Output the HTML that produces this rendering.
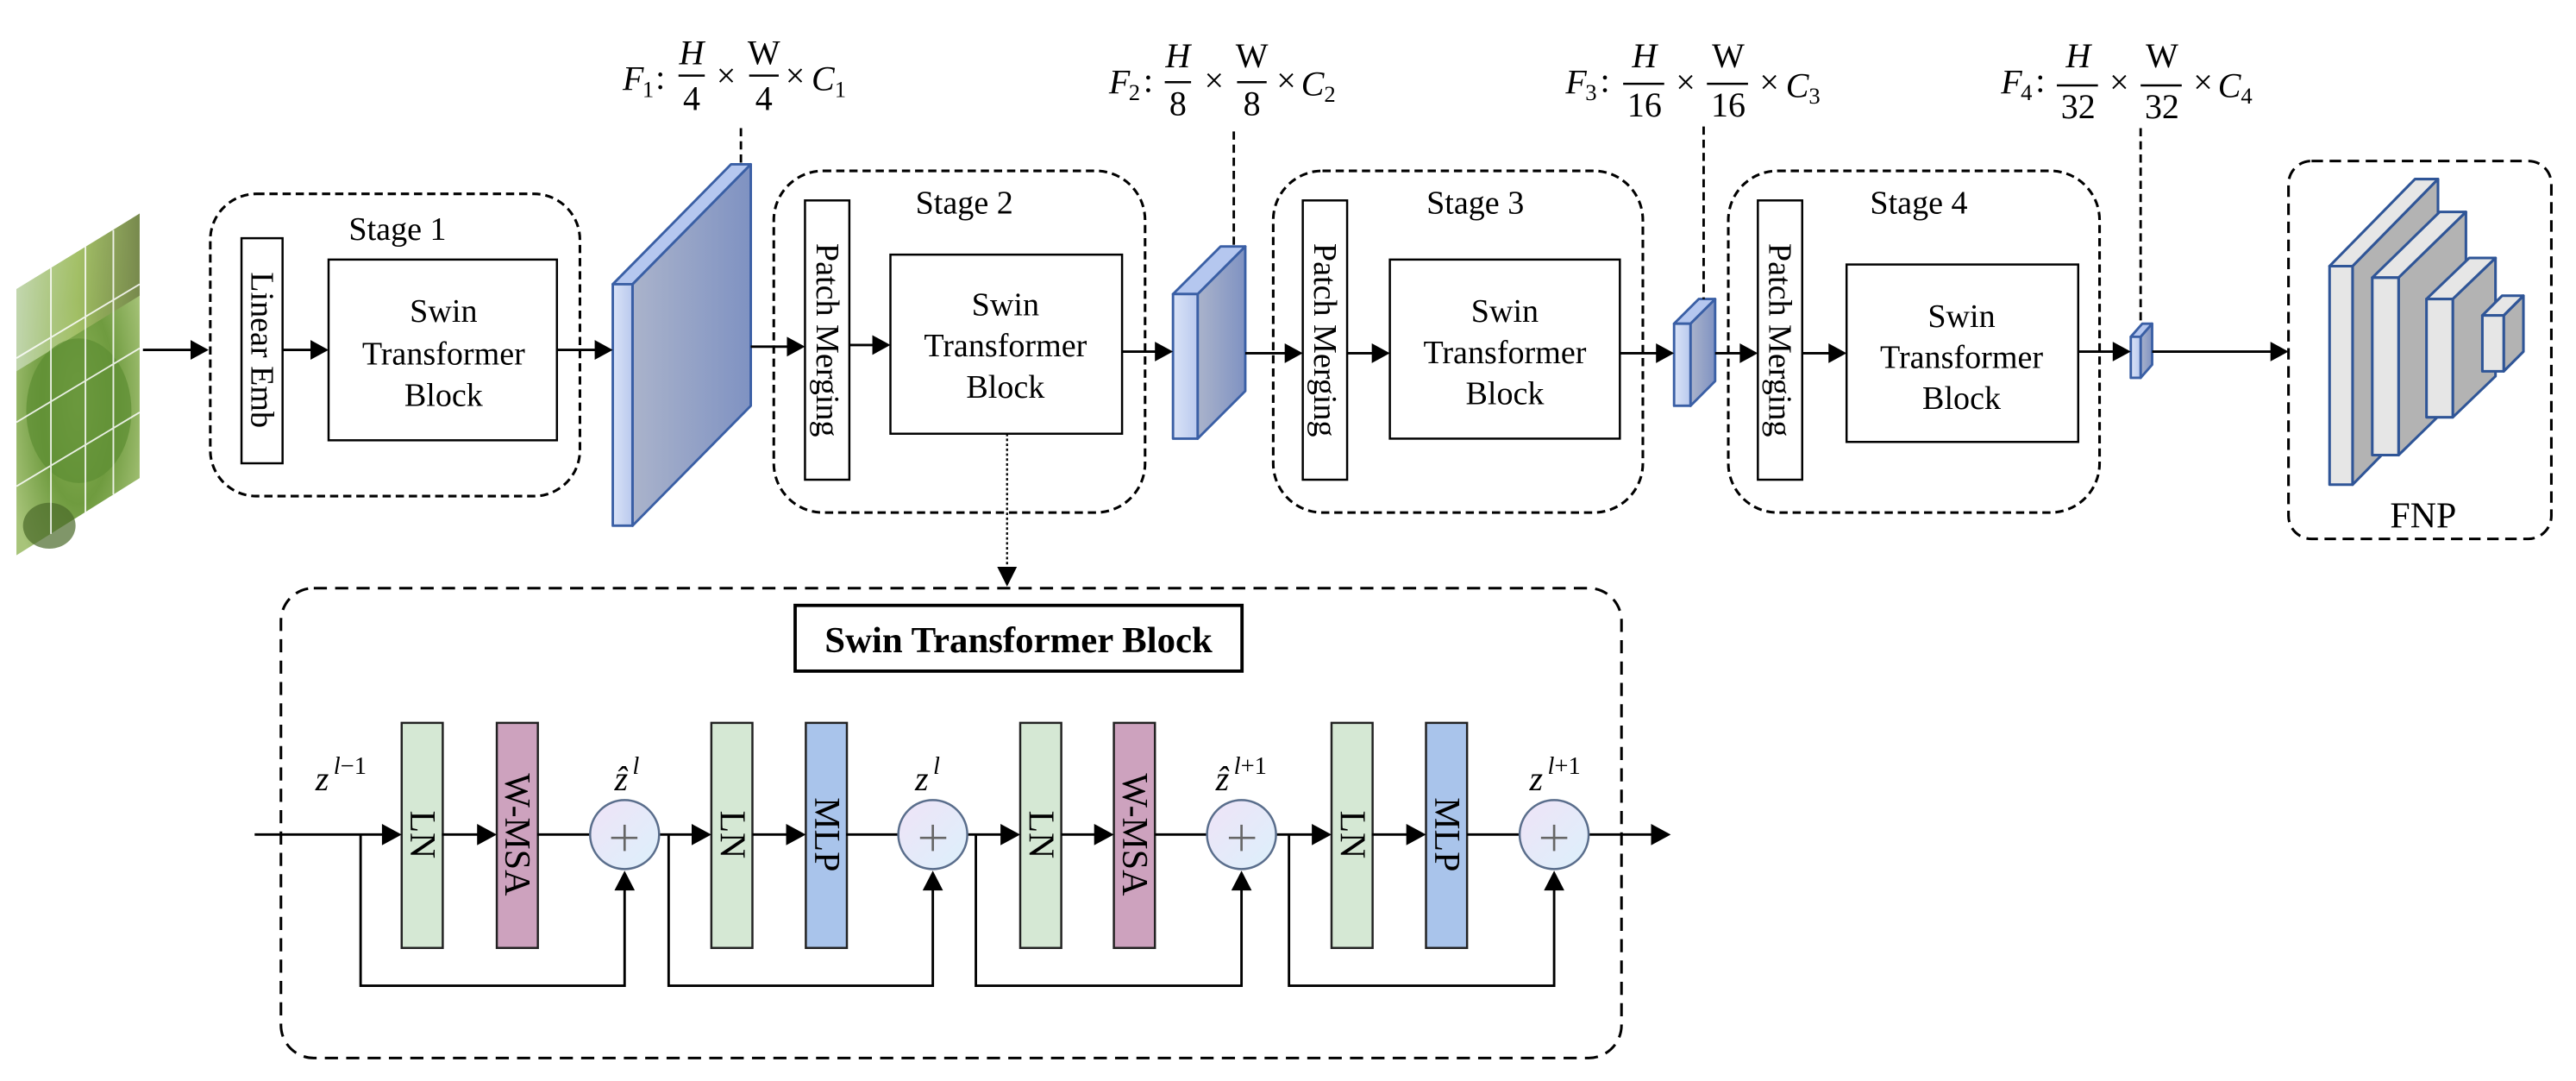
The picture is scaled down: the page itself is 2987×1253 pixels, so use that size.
<!DOCTYPE html>
<html><head><meta charset="utf-8"><style>
html,body{margin:0;padding:0;background:#fff;}
svg{display:block;}
text{font-family:"Liberation Serif","DejaVu Serif",serif;}
</style></head><body>
<svg width="2987" height="1253" viewBox="0 0 1568 658" preserveAspectRatio="none" xmlns="http://www.w3.org/2000/svg">
<defs>
<linearGradient id="slab" x1="0" y1="0" x2="1" y2="0"><stop offset="0" stop-color="#aab3cb"/><stop offset="1" stop-color="#7f92c2"/></linearGradient>
<linearGradient id="front" x1="0" y1="0" x2="1" y2="0"><stop offset="0" stop-color="#dae3f7"/><stop offset="1" stop-color="#b9c9ee"/></linearGradient>
<linearGradient id="circ" x1="0" y1="0" x2="1" y2="1"><stop offset="0" stop-color="#efe3f7"/><stop offset="1" stop-color="#dcf0fb"/></linearGradient>
<linearGradient id="leaftop" x1="0" y1="0" x2="1" y2="0"><stop offset="0" stop-color="#c7dab8"/><stop offset="0.5" stop-color="#a9c46a"/><stop offset="1" stop-color="#6f7f45"/></linearGradient>
<radialGradient id="leaf" cx="0.5" cy="0.55" r="0.6"><stop offset="0" stop-color="#8fb55a"/><stop offset="0.5" stop-color="#6f9b3f"/><stop offset="1" stop-color="#a8c47a"/></radialGradient>
</defs>

<!-- input image -->
<polygon points="10,176 85,130 85,291 10,338" fill="url(#leaf)"/>
<polygon points="10,176 85,130 85,180 10,226" fill="url(#leaftop)" opacity="0.85"/>
<ellipse cx="48" cy="250" rx="32" ry="44" fill="#5f8f34" opacity="0.75"/>
<ellipse cx="30" cy="320" rx="16" ry="14" fill="#4a6a2a" opacity="0.7"/>
<g stroke="#fff" stroke-width="1" opacity="0.85">
<line x1="31" y1="163" x2="31" y2="325"/><line x1="52" y1="150" x2="52" y2="312"/><line x1="69" y1="140" x2="69" y2="301"/>
<line x1="10" y1="218" x2="85" y2="173"/><line x1="10" y1="257" x2="85" y2="212"/><line x1="10" y1="296" x2="85" y2="251"/>
</g>

<g fill="none" stroke="#000" stroke-width="1.6" stroke-dasharray="5 3">
<rect x="128" y="118" width="225" height="184" rx="28"/>
<rect x="471" y="104" width="226" height="208" rx="30"/>
<rect x="775" y="104" width="225" height="208" rx="30"/>
<rect x="1052" y="104" width="226" height="208" rx="30"/>
</g>
<rect x="1393" y="98" width="160" height="230" rx="14" fill="none" stroke="#000" stroke-width="1.6" stroke-dasharray="7 4"/>
<rect x="171" y="358" width="816" height="286" rx="20" fill="none" stroke="#000" stroke-width="1.6" stroke-dasharray="8 5"/>

<g font-size="20" text-anchor="middle">
<text x="242" y="146">Stage 1</text>
<text x="587" y="130">Stage 2</text>
<text x="898" y="130">Stage 3</text>
<text x="1168" y="130">Stage 4</text>
<text x="1475" y="321" font-size="22">FNP</text>
</g>

<g fill="#fff" stroke="#000" stroke-width="1.3">
<rect x="147" y="145" width="25" height="137"/>
<rect x="490" y="122" width="27" height="170"/>
<rect x="793" y="122" width="27" height="170"/>
<rect x="1070" y="122" width="27" height="170"/>
<rect x="200" y="158" width="139" height="110"/>
<rect x="542" y="155" width="141" height="109"/>
<rect x="846" y="158" width="140" height="109"/>
<rect x="1124" y="161" width="141" height="108"/>
</g>
<g font-size="20" text-anchor="middle">
<text transform="translate(153,213) rotate(90)">Linear Emb</text>
<text transform="translate(497,207) rotate(90)">Patch Merging</text>
<text transform="translate(800,207) rotate(90)">Patch Merging</text>
<text transform="translate(1077,207) rotate(90)">Patch Merging</text>
</g>
<g font-size="20" text-anchor="middle">
<text x="270" y="196">Swin</text><text x="270" y="222">Transformer</text><text x="270" y="247">Block</text>
<text x="612" y="192">Swin</text><text x="612" y="217">Transformer</text><text x="612" y="242">Block</text>
<text x="916" y="196">Swin</text><text x="916" y="221">Transformer</text><text x="916" y="246">Block</text>
<text x="1194" y="199">Swin</text><text x="1194" y="224">Transformer</text><text x="1194" y="249">Block</text>
</g>

<g stroke="#3a5fa5" stroke-width="1.5" stroke-linejoin="round">
<polygon points="385,173 457,100 457,247 385,320" fill="url(#slab)"/>
<polygon points="373,173 385,173 457,100 445,100" fill="#b5c7ef"/>
<rect x="373" y="173" width="12" height="147" fill="url(#front)"/>
<polygon points="729,179 758,150 758,238 729,267" fill="url(#slab)"/>
<polygon points="714,179 729,179 758,150 743,150" fill="#b5c7ef"/>
<rect x="714" y="179" width="15" height="88" fill="url(#front)"/>
<polygon points="1029,197 1044,182 1044,232 1029,247" fill="url(#slab)"/>
<polygon points="1019,197 1029,197 1044,182 1034,182" fill="#b5c7ef"/>
<rect x="1019" y="197" width="10" height="50" fill="url(#front)"/>
<polygon points="1303,205 1310,197 1310,222 1303,230" fill="url(#slab)"/>
<polygon points="1297,205 1303,205 1310,197 1304,197" fill="#b5c7ef"/>
<rect x="1297" y="205" width="6" height="25" fill="url(#front)"/>
</g>
<g stroke="#000" stroke-width="1.5" stroke-dasharray="5 3">
<line x1="451" y1="78" x2="451" y2="100"/>
<line x1="751" y1="80" x2="751" y2="150"/>
<line x1="1037" y1="77" x2="1037" y2="182"/>
<line x1="1303" y1="78" x2="1303" y2="197"/>
</g>

<g stroke="#2f5597" stroke-width="1.6" stroke-linejoin="round">
<polygon points="1432,162 1484,109 1484,242 1432,295" fill="#b3b3b3"/>
<polygon points="1418,162 1432,162 1484,109 1470,109" fill="#e6e6e6"/>
<rect x="1418" y="162" width="14" height="133" fill="#e6e6e6"/>
<polygon points="1460,169 1501,129 1501,237 1460,277" fill="#b3b3b3"/>
<polygon points="1444,169 1460,169 1501,129 1485,129" fill="#e6e6e6"/>
<rect x="1444" y="169" width="16" height="108" fill="#e6e6e6"/>
<polygon points="1493,182 1519,157 1519,229 1493,254" fill="#b3b3b3"/>
<polygon points="1477,182 1493,182 1519,157 1503,157" fill="#e6e6e6"/>
<rect x="1477" y="182" width="16" height="72" fill="#e6e6e6"/>
<polygon points="1524,192 1536,180 1536,214 1524,226" fill="#b3b3b3"/>
<polygon points="1511,192 1524,192 1536,180 1523,180" fill="#e6e6e6"/>
<rect x="1511" y="192" width="13" height="34" fill="#e6e6e6"/>
</g>

<g stroke="#000" stroke-width="1.5">
<line x1="87" y1="213" x2="120" y2="213"/>
<line x1="172" y1="213" x2="192" y2="213"/>
<line x1="339" y1="213" x2="365" y2="213"/>
<line x1="457" y1="211" x2="482" y2="211"/>
<line x1="517" y1="210" x2="535" y2="210"/>
<line x1="683" y1="214" x2="707" y2="214"/>
<line x1="758" y1="215" x2="786" y2="215"/>
<line x1="820" y1="215" x2="839" y2="215"/>
<line x1="986" y1="215" x2="1012" y2="215"/>
<line x1="1044" y1="215" x2="1063" y2="215"/>
<line x1="1097" y1="215" x2="1117" y2="215"/>
<line x1="1265" y1="214" x2="1290" y2="214"/>
<line x1="1310" y1="214" x2="1386" y2="214"/>
</g>
<g fill="#000">
<polygon points="127,213 116,207 116,219"/>
<polygon points="200,213 189,207 189,219"/>
<polygon points="373,213 362,207 362,219"/>
<polygon points="490,211 479,205 479,217"/>
<polygon points="542,210 531,204 531,216"/>
<polygon points="714,214 703,208 703,220"/>
<polygon points="793,215 782,209 782,221"/>
<polygon points="846,215 835,209 835,221"/>
<polygon points="1019,215 1008,209 1008,221"/>
<polygon points="1070,215 1059,209 1059,221"/>
<polygon points="1124,215 1113,209 1113,221"/>
<polygon points="1297,214 1286,208 1286,220"/>
<polygon points="1393,214 1382,208 1382,220"/>
</g>

<g font-size="21">
<g>
<text x="379" y="55" font-style="italic">F</text><text x="391" y="59" font-size="14">1</text><text x="399" y="54">:</text>
<text x="421" y="39" text-anchor="middle" font-style="italic">H</text><line x1="413" y1="46" x2="429" y2="46" stroke="#000" stroke-width="1.3"/><text x="421" y="67" text-anchor="middle">4</text>
<text x="442" y="53" text-anchor="middle">×</text>
<text x="465" y="39" text-anchor="middle">W</text><line x1="456" y1="46" x2="474" y2="46" stroke="#000" stroke-width="1.3"/><text x="465" y="67" text-anchor="middle">4</text>
<text x="484" y="53" text-anchor="middle">×</text><text x="494" y="55" font-style="italic">C</text><text x="508" y="59" font-size="14">1</text>
</g>
<g>
<text x="675" y="57" font-style="italic">F</text><text x="687" y="61" font-size="14">2</text><text x="696" y="56">:</text>
<text x="717" y="41" text-anchor="middle" font-style="italic">H</text><line x1="709" y1="50" x2="725" y2="50" stroke="#000" stroke-width="1.3"/><text x="717" y="70" text-anchor="middle">8</text>
<text x="739" y="56" text-anchor="middle">×</text>
<text x="762" y="41" text-anchor="middle">W</text><line x1="753" y1="50" x2="771" y2="50" stroke="#000" stroke-width="1.3"/><text x="762" y="70" text-anchor="middle">8</text>
<text x="783" y="56" text-anchor="middle">×</text><text x="792" y="58" font-style="italic">C</text><text x="806" y="62" font-size="14">2</text>
</g>
<g>
<text x="953" y="57" font-style="italic">F</text><text x="965" y="61" font-size="14">3</text><text x="974" y="56">:</text>
<text x="1001" y="41" text-anchor="middle" font-style="italic">H</text><line x1="988" y1="51" x2="1013" y2="51" stroke="#000" stroke-width="1.3"/><text x="1001" y="71" text-anchor="middle">16</text>
<text x="1026" y="57" text-anchor="middle">×</text>
<text x="1052" y="41" text-anchor="middle">W</text><line x1="1039" y1="51" x2="1064" y2="51" stroke="#000" stroke-width="1.3"/><text x="1052" y="71" text-anchor="middle">16</text>
<text x="1077" y="57" text-anchor="middle">×</text><text x="1087" y="59" font-style="italic">C</text><text x="1101" y="63" font-size="14">3</text>
</g>
<g>
<text x="1218" y="57" font-style="italic">F</text><text x="1230" y="61" font-size="14">4</text><text x="1239" y="56">:</text>
<text x="1265" y="41" text-anchor="middle" font-style="italic">H</text><line x1="1252" y1="52" x2="1277" y2="52" stroke="#000" stroke-width="1.3"/><text x="1265" y="72" text-anchor="middle">32</text>
<text x="1290" y="57" text-anchor="middle">×</text>
<text x="1316" y="41" text-anchor="middle">W</text><line x1="1303" y1="52" x2="1328" y2="52" stroke="#000" stroke-width="1.3"/><text x="1316" y="72" text-anchor="middle">32</text>
<text x="1341" y="57" text-anchor="middle">×</text><text x="1350" y="59" font-style="italic">C</text><text x="1364" y="63" font-size="14">4</text>
</g>
</g>

<line x1="613" y1="264" x2="613" y2="345" stroke="#000" stroke-width="1.2" stroke-dasharray="1.5 1.5"/>
<polygon points="613,357 607,345 619,345" fill="#000"/>

<rect x="484" y="368.5" width="272" height="40" fill="#fff" stroke="#000" stroke-width="2"/>
<text x="620" y="397" font-size="22" font-weight="bold" text-anchor="middle" textLength="236" lengthAdjust="spacingAndGlyphs">Swin Transformer Block</text>

<g stroke="#222" stroke-width="1.3">
<rect x="244.5" y="440" width="25" height="137" fill="#d5e8d4"/>
<rect x="302.4" y="440" width="25" height="137" fill="#cda2be"/>
<rect x="433" y="440" width="25" height="137" fill="#d5e8d4"/>
<rect x="490.5" y="440" width="25" height="137" fill="#a9c4eb"/>
<rect x="621" y="440" width="25" height="137" fill="#d5e8d4"/>
<rect x="678" y="440" width="25" height="137" fill="#cda2be"/>
<rect x="810.5" y="440" width="25" height="137" fill="#d5e8d4"/>
<rect x="868" y="440" width="25" height="137" fill="#a9c4eb"/>
</g>
<g font-size="22" text-anchor="middle">
<text transform="translate(250,508) rotate(90)">LN</text>
<text transform="translate(307.5,508) rotate(90)">W-MSA</text>
<text transform="translate(438.5,508) rotate(90)">LN</text>
<text transform="translate(496,508) rotate(90)">MLP</text>
<text transform="translate(626.5,508) rotate(90)">LN</text>
<text transform="translate(683.5,508) rotate(90)">W-MSA</text>
<text transform="translate(816,508) rotate(90)">LN</text>
<text transform="translate(873.5,508) rotate(90)">MLP</text>
</g>

<g stroke="#000" stroke-width="1.5" fill="none">
<line x1="155" y1="508" x2="234" y2="508"/>
<line x1="269" y1="508" x2="292" y2="508"/>
<line x1="327" y1="508" x2="359" y2="508"/>
<line x1="401" y1="508" x2="423" y2="508"/>
<line x1="458" y1="508" x2="480" y2="508"/>
<line x1="515" y1="508" x2="547" y2="508"/>
<line x1="589" y1="508" x2="611" y2="508"/>
<line x1="646" y1="508" x2="668" y2="508"/>
<line x1="703" y1="508" x2="735" y2="508"/>
<line x1="777" y1="508" x2="800" y2="508"/>
<line x1="835" y1="508" x2="858" y2="508"/>
<line x1="893" y1="508" x2="925" y2="508"/>
<line x1="967" y1="508" x2="1006" y2="508"/>
<polyline points="219.5,508 219.5,600 380.2,600 380.2,540"/>
<polyline points="407,508 407,600 567.8,600 567.8,540"/>
<polyline points="594,508 594,600 755.7,600 755.7,540"/>
<polyline points="784.6,508 784.6,600 946,600 946,540"/>
</g>
<g fill="#000">
<polygon points="244.5,508 232.5,501.5 232.5,514.5"/>
<polygon points="302.4,508 290.4,501.5 290.4,514.5"/>
<polygon points="433,508 421,501.5 421,514.5"/>
<polygon points="490.5,508 478.5,501.5 478.5,514.5"/>
<polygon points="621,508 609,501.5 609,514.5"/>
<polygon points="678,508 666,501.5 666,514.5"/>
<polygon points="810.5,508 798.5,501.5 798.5,514.5"/>
<polygon points="868,508 856,501.5 856,514.5"/>
<polygon points="1017,508 1005,501.5 1005,514.5"/>
<polygon points="380.2,530 374,542 386.4,542"/>
<polygon points="567.8,530 561.6,542 574,542"/>
<polygon points="755.7,530 749.5,542 761.9,542"/>
<polygon points="946,530 939.8,542 952.2,542"/>
</g>
<g stroke="#5a6e8c" stroke-width="1.3" fill="url(#circ)">
<circle cx="380.2" cy="508" r="21"/>
<circle cx="567.8" cy="508" r="21"/>
<circle cx="755.7" cy="508" r="21"/>
<circle cx="946" cy="508" r="21"/>
</g>
<g stroke="#666" stroke-width="1.4">
<line x1="372" y1="510" x2="388" y2="510"/><line x1="380.2" y1="502" x2="380.2" y2="518"/>
<line x1="560" y1="510" x2="576" y2="510"/><line x1="567.8" y1="502" x2="567.8" y2="518"/>
<line x1="748" y1="510" x2="764" y2="510"/><line x1="755.7" y1="502" x2="755.7" y2="518"/>
<line x1="938" y1="510" x2="954" y2="510"/><line x1="946" y1="502" x2="946" y2="518"/>
</g>
<g font-size="21" font-style="italic">
<text x="192" y="481">z</text><text x="203" y="471" font-size="15">l<tspan font-style="normal">−1</tspan></text>
<text x="374" y="481">ẑ</text><text x="385" y="471" font-size="15">l</text>
<text x="557" y="481">z</text><text x="568" y="471" font-size="15">l</text>
<text x="740" y="481">ẑ</text><text x="751" y="471" font-size="15">l<tspan font-style="normal">+1</tspan></text>
<text x="931" y="481">z</text><text x="942" y="471" font-size="15">l<tspan font-style="normal">+1</tspan></text>
</g>
</svg>
</body></html>
